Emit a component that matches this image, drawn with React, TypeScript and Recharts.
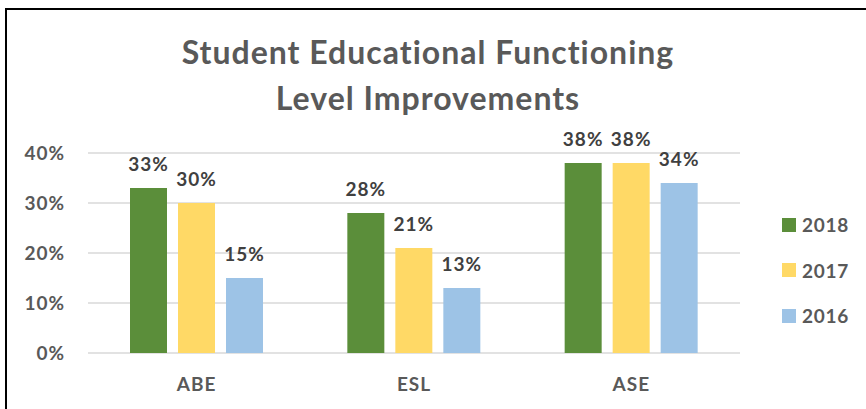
import React from 'react';
import { BarChart, Bar, XAxis, YAxis, CartesianGrid, Legend, LabelList } from 'recharts';

const categories = ['ABE', 'ESL', 'ASE'];
const values2018 = [33, 28, 38];
const values2017 = [30, 21, 38];
const values2016 = [15, 13, 34];
const yTicks = [0, 10, 20, 30, 40];
const titleLines = ['Student Educational Functioning', 'Level Improvements'];

const series = [
  { key: 'y2018', name: '2018', color: '#5B8E3A' },
  { key: 'y2017', name: '2017', color: '#FFD966' },
  { key: 'y2016', name: '2016', color: '#9DC3E6' },
];

const data = categories.map((c, i) => ({
  category: c,
  y2018: values2018[i],
  y2017: values2017[i],
  y2016: values2016[i],
}));

const FONT = 'Lato, "Open Sans", sans-serif';

const renderLegend = () => (
  <div style={{ fontFamily: FONT }}>
    {series.map((s) => (
      <div key={s.key} style={{ display: 'flex', alignItems: 'center', height: 45.5 }}>
        <div style={{ width: 14, height: 14, background: s.color, marginRight: 6 }} />
        <span style={{ fontSize: 19, fontWeight: 700, color: '#595959', letterSpacing: 0.7 }}>{s.name}</span>
      </div>
    ))}
  </div>
);

export default function App() {
  return (
    <div style={{ position: 'absolute', left: 0, top: 0, width: 866, height: 409, background: '#fff', overflow: 'hidden' }}>
      <div
        style={{
          position: 'absolute',
          left: 5,
          top: 8,
          width: 870,
          height: 410,
          borderLeft: '2px solid #000',
          borderTop: '2px solid #000',
          boxSizing: 'border-box',
        }}
      />
      <svg width={866} height={409} style={{ position: 'absolute', left: 0, top: 0, pointerEvents: 'none' }}>
        {titleLines.map((t, i) => (
          <text
            key={t}
            x={428}
            y={64 + i * 46}
            textAnchor="middle"
            fontFamily={FONT}
            fontWeight={700}
            fontSize={32}
            letterSpacing={1}
            fill="#595959"
          >
            {t}
          </text>
        ))}
      </svg>
      <div style={{ position: 'absolute', left: 0, top: 0 }}>
        <BarChart
          width={866}
          height={409}
          data={data}
          margin={{ top: 153, right: 126, bottom: 26, left: 0 }}
          barSize={37}
          barGap={11}
        >
          <CartesianGrid vertical={false} stroke="#d9d9d9" strokeWidth={1.5} />
          <XAxis
            dataKey="category"
            height={30}
            axisLine={false}
            tickLine={false}
            tickSize={0}
            tickMargin={25}
            tick={{ fill: '#595959', fontSize: 19, fontWeight: 700, fontFamily: FONT, letterSpacing: 1 }}
          />
          <YAxis
            width={88}
            domain={[0, 40]}
            ticks={yTicks}
            axisLine={false}
            tickLine={false}
            tickSize={0}
            tickMargin={23}
            tickFormatter={(v: number) => `${v}%`}
            tick={{ fill: '#595959', fontSize: 19, fontWeight: 700, fontFamily: FONT, letterSpacing: 1 }}
          />
          <Legend
            layout="vertical"
            align="center"
            verticalAlign="middle"
            content={renderLegend}
            wrapperStyle={{ left: 782, top: 202, width: 84 }}
          />
          {series.map((s) => (
            <Bar key={s.key} dataKey={s.key} name={s.name} fill={s.color} isAnimationActive={false}>
              <LabelList
                dataKey={s.key}
                position="top"
                offset={17}
                formatter={(v: number) => `${v}%`}
                style={{ fill: '#404040', fontSize: 19, fontWeight: 700, fontFamily: FONT, letterSpacing: 1 }}
              />
            </Bar>
          ))}
        </BarChart>
      </div>
    </div>
  );
}
